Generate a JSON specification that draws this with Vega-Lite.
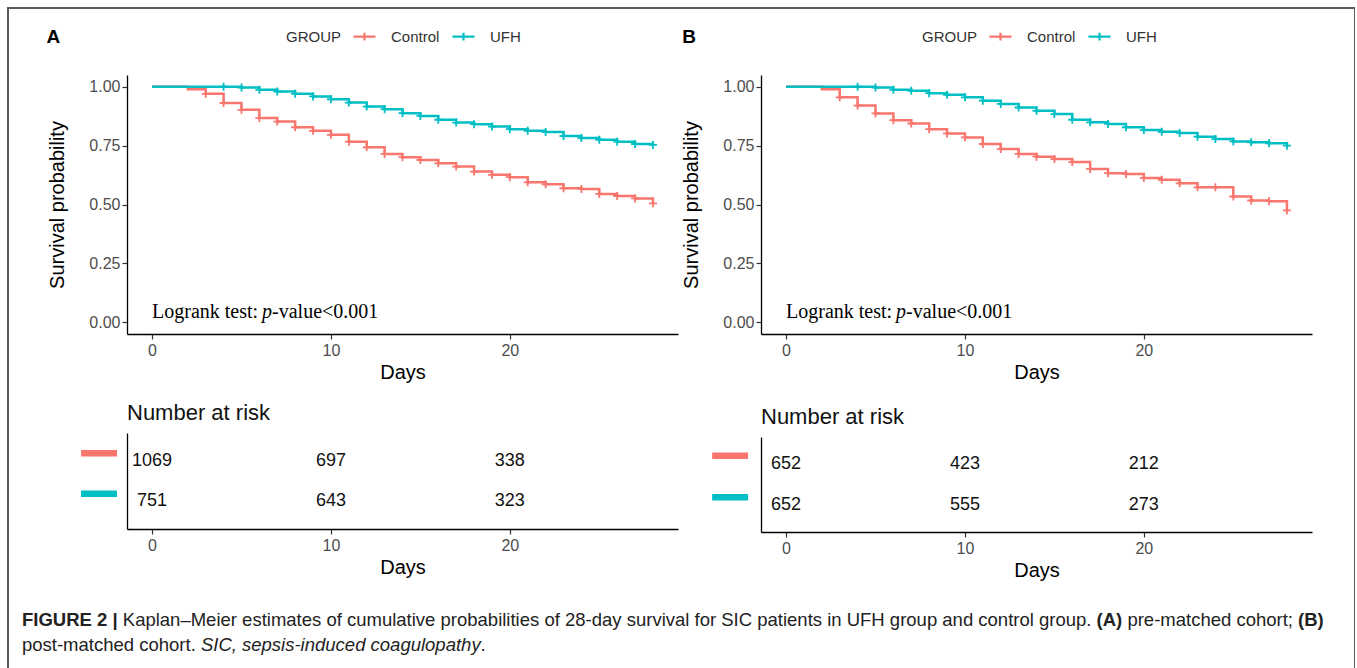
{
  "$schema": "https://vega.github.io/schema/vega-lite/v6.json",
  "width": 1347,
  "height": 670,
  "autosize": {"type": "none"},
  "padding": {"left": 8, "top": 8, "right": 0, "bottom": 0},
  "background": "white",
  "config": {
    "view": {"stroke": "#5a5a5a", "strokeWidth": 2},
    "font": "Liberation Sans",
    "axis": {"grid": false, "domainColor": "#000", "domainWidth": 1.3, "tickColor": "#333", "tickWidth": 1.2, "tickSize": 5, "labelColor": "#4d4d4d", "labelFontSize": 16, "labelFont": "Liberation Sans", "labelPadding": 3, "titleFont": "Liberation Sans", "titleFontSize": 20, "titleFontWeight": "normal", "titleColor": "#000"},
    "legend": {"labelFont": "Liberation Sans", "titleFont": "Liberation Sans"}
  },
  "datasets": {
    "km": [
      {"panel":"A","group":"Control","day":0,"surv":1,"censored":false},
      {"panel":"A","group":"Control","day":2,"surv":0.99,"censored":false},
      {"panel":"A","group":"Control","day":3,"surv":0.970,"censored":true},
      {"panel":"A","group":"Control","day":4,"surv":0.931,"censored":true},
      {"panel":"A","group":"Control","day":5,"surv":0.902,"censored":true},
      {"panel":"A","group":"Control","day":6,"surv":0.867,"censored":true},
      {"panel":"A","group":"Control","day":7,"surv":0.852,"censored":true},
      {"panel":"A","group":"Control","day":8,"surv":0.828,"censored":true},
      {"panel":"A","group":"Control","day":9,"surv":0.813,"censored":true},
      {"panel":"A","group":"Control","day":10,"surv":0.796,"censored":true},
      {"panel":"A","group":"Control","day":11,"surv":0.767,"censored":true},
      {"panel":"A","group":"Control","day":12,"surv":0.743,"censored":true},
      {"panel":"A","group":"Control","day":13,"surv":0.715,"censored":true},
      {"panel":"A","group":"Control","day":14,"surv":0.701,"censored":true},
      {"panel":"A","group":"Control","day":15,"surv":0.689,"censored":true},
      {"panel":"A","group":"Control","day":16,"surv":0.675,"censored":true},
      {"panel":"A","group":"Control","day":17,"surv":0.661,"censored":true},
      {"panel":"A","group":"Control","day":18,"surv":0.640,"censored":true},
      {"panel":"A","group":"Control","day":19,"surv":0.626,"censored":true},
      {"panel":"A","group":"Control","day":20,"surv":0.616,"censored":true},
      {"panel":"A","group":"Control","day":21,"surv":0.594,"censored":true},
      {"panel":"A","group":"Control","day":22,"surv":0.586,"censored":true},
      {"panel":"A","group":"Control","day":23,"surv":0.569,"censored":true},
      {"panel":"A","group":"Control","day":24,"surv":0.566,"censored":true},
      {"panel":"A","group":"Control","day":25,"surv":0.545,"censored":true},
      {"panel":"A","group":"Control","day":26,"surv":0.536,"censored":true},
      {"panel":"A","group":"Control","day":27,"surv":0.526,"censored":true},
      {"panel":"A","group":"Control","day":28,"surv":0.505,"censored":true},
      {"panel":"A","group":"UFH","day":0,"surv":1,"censored":false},
      {"panel":"A","group":"UFH","day":4,"surv":1,"censored":true},
      {"panel":"A","group":"UFH","day":5,"surv":0.997,"censored":true},
      {"panel":"A","group":"UFH","day":6,"surv":0.987,"censored":true},
      {"panel":"A","group":"UFH","day":7,"surv":0.980,"censored":true},
      {"panel":"A","group":"UFH","day":8,"surv":0.970,"censored":true},
      {"panel":"A","group":"UFH","day":9,"surv":0.959,"censored":true},
      {"panel":"A","group":"UFH","day":10,"surv":0.947,"censored":true},
      {"panel":"A","group":"UFH","day":11,"surv":0.933,"censored":true},
      {"panel":"A","group":"UFH","day":12,"surv":0.916,"censored":true},
      {"panel":"A","group":"UFH","day":13,"surv":0.905,"censored":true},
      {"panel":"A","group":"UFH","day":14,"surv":0.888,"censored":true},
      {"panel":"A","group":"UFH","day":15,"surv":0.876,"censored":true},
      {"panel":"A","group":"UFH","day":16,"surv":0.860,"censored":true},
      {"panel":"A","group":"UFH","day":17,"surv":0.848,"censored":true},
      {"panel":"A","group":"UFH","day":18,"surv":0.841,"censored":true},
      {"panel":"A","group":"UFH","day":19,"surv":0.831,"censored":true},
      {"panel":"A","group":"UFH","day":20,"surv":0.820,"censored":true},
      {"panel":"A","group":"UFH","day":21,"surv":0.813,"censored":true},
      {"panel":"A","group":"UFH","day":22,"surv":0.808,"censored":true},
      {"panel":"A","group":"UFH","day":23,"surv":0.791,"censored":true},
      {"panel":"A","group":"UFH","day":24,"surv":0.782,"censored":true},
      {"panel":"A","group":"UFH","day":25,"surv":0.775,"censored":true},
      {"panel":"A","group":"UFH","day":26,"surv":0.767,"censored":true},
      {"panel":"A","group":"UFH","day":27,"surv":0.757,"censored":true},
      {"panel":"A","group":"UFH","day":28,"surv":0.753,"censored":true},
      {"panel":"B","group":"Control","day":0,"surv":1,"censored":false},
      {"panel":"B","group":"Control","day":2,"surv":0.99,"censored":false},
      {"panel":"B","group":"Control","day":3,"surv":0.955,"censored":true},
      {"panel":"B","group":"Control","day":4,"surv":0.920,"censored":true},
      {"panel":"B","group":"Control","day":5,"surv":0.887,"censored":true},
      {"panel":"B","group":"Control","day":6,"surv":0.858,"censored":true},
      {"panel":"B","group":"Control","day":7,"surv":0.844,"censored":true},
      {"panel":"B","group":"Control","day":8,"surv":0.820,"censored":true},
      {"panel":"B","group":"Control","day":9,"surv":0.802,"censored":true},
      {"panel":"B","group":"Control","day":10,"surv":0.785,"censored":true},
      {"panel":"B","group":"Control","day":11,"surv":0.757,"censored":true},
      {"panel":"B","group":"Control","day":12,"surv":0.736,"censored":true},
      {"panel":"B","group":"Control","day":13,"surv":0.715,"censored":true},
      {"panel":"B","group":"Control","day":14,"surv":0.703,"censored":true},
      {"panel":"B","group":"Control","day":15,"surv":0.693,"censored":true},
      {"panel":"B","group":"Control","day":16,"surv":0.680,"censored":true},
      {"panel":"B","group":"Control","day":17,"surv":0.651,"censored":true},
      {"panel":"B","group":"Control","day":18,"surv":0.633,"censored":true},
      {"panel":"B","group":"Control","day":19,"surv":0.630,"censored":true},
      {"panel":"B","group":"Control","day":20,"surv":0.613,"censored":true},
      {"panel":"B","group":"Control","day":21,"surv":0.605,"censored":true},
      {"panel":"B","group":"Control","day":22,"surv":0.590,"censored":true},
      {"panel":"B","group":"Control","day":23,"surv":0.573,"censored":true},
      {"panel":"B","group":"Control","day":24,"surv":0.573,"censored":true},
      {"panel":"B","group":"Control","day":25,"surv":0.534,"censored":true},
      {"panel":"B","group":"Control","day":26,"surv":0.517,"censored":true},
      {"panel":"B","group":"Control","day":27,"surv":0.514,"censored":true},
      {"panel":"B","group":"Control","day":28,"surv":0.475,"censored":true},
      {"panel":"B","group":"UFH","day":0,"surv":1,"censored":false},
      {"panel":"B","group":"UFH","day":4,"surv":1,"censored":true},
      {"panel":"B","group":"UFH","day":5,"surv":0.997,"censored":true},
      {"panel":"B","group":"UFH","day":6,"surv":0.987,"censored":true},
      {"panel":"B","group":"UFH","day":7,"surv":0.983,"censored":true},
      {"panel":"B","group":"UFH","day":8,"surv":0.973,"censored":true},
      {"panel":"B","group":"UFH","day":9,"surv":0.966,"censored":true},
      {"panel":"B","group":"UFH","day":10,"surv":0.955,"censored":true},
      {"panel":"B","group":"UFH","day":11,"surv":0.941,"censored":true},
      {"panel":"B","group":"UFH","day":12,"surv":0.927,"censored":true},
      {"panel":"B","group":"UFH","day":13,"surv":0.912,"censored":true},
      {"panel":"B","group":"UFH","day":14,"surv":0.898,"censored":true},
      {"panel":"B","group":"UFH","day":15,"surv":0.884,"censored":true},
      {"panel":"B","group":"UFH","day":16,"surv":0.860,"censored":true},
      {"panel":"B","group":"UFH","day":17,"surv":0.849,"censored":true},
      {"panel":"B","group":"UFH","day":18,"surv":0.842,"censored":true},
      {"panel":"B","group":"UFH","day":19,"surv":0.828,"censored":true},
      {"panel":"B","group":"UFH","day":20,"surv":0.816,"censored":true},
      {"panel":"B","group":"UFH","day":21,"surv":0.809,"censored":true},
      {"panel":"B","group":"UFH","day":22,"surv":0.804,"censored":true},
      {"panel":"B","group":"UFH","day":23,"surv":0.788,"censored":true},
      {"panel":"B","group":"UFH","day":24,"surv":0.778,"censored":true},
      {"panel":"B","group":"UFH","day":25,"surv":0.768,"censored":true},
      {"panel":"B","group":"UFH","day":26,"surv":0.764,"censored":true},
      {"panel":"B","group":"UFH","day":27,"surv":0.760,"censored":true},
      {"panel":"B","group":"UFH","day":28,"surv":0.750,"censored":true}
    ],
    "risk": [
      {"panel":"A","group":"Control","day":0,"n":1069},
      {"panel":"A","group":"Control","day":10,"n":697},
      {"panel":"A","group":"Control","day":20,"n":338},
      {"panel":"A","group":"UFH","day":0,"n":751},
      {"panel":"A","group":"UFH","day":10,"n":643},
      {"panel":"A","group":"UFH","day":20,"n":323},
      {"panel":"B","group":"Control","day":0,"n":652},
      {"panel":"B","group":"Control","day":10,"n":423},
      {"panel":"B","group":"Control","day":20,"n":212},
      {"panel":"B","group":"UFH","day":0,"n":652},
      {"panel":"B","group":"UFH","day":10,"n":555},
      {"panel":"B","group":"UFH","day":20,"n":273}
    ]
  },
  "layer": [
    {
      "data": {"name": "km"},
      "transform": [{"filter": "datum.panel === 'A'"}],
      "layer": [
        {
          "mark": {"type": "line", "interpolate": "step-after", "strokeWidth": 2.5},
          "encoding": {
            "x": {"field": "day", "type": "quantitative", "scale": {"domain": [-1.4, 29.4], "range": [119, 670], "nice": false, "zero": false}, "axis": {"orient": "bottom", "offset": -344, "values": [0, 10, 20], "title": "Days", "titlePadding": 4}},
            "y": {"field": "surv", "type": "quantitative", "scale": {"domain": [-0.05, 1.05], "range": [326, 67], "nice": false, "zero": false}, "axis": {"orient": "left", "offset": -119, "values": [0, 0.25, 0.5, 0.75, 1], "format": ".2f", "title": "Survival probability", "titlePadding": 21, "labelPadding": 2}},
            "color": {"field": "group", "type": "nominal", "scale": {"domain": ["Control", "UFH"], "range": ["#F8766D", "#00BFC4"]},
              "legend": {"orient": "none", "legendX": 278, "legendY": 16, "direction": "horizontal", "title": "GROUP", "titleOrient": "left", "titleAnchor": "middle", "titleBaseline": "middle", "titleFontSize": 15, "titleFontWeight": "normal", "titleColor": "#333", "titlePadding": 10, "labelFontSize": 15, "labelColor": "#333", "labelOffset": 14, "columnPadding": 8, "symbolType": "M-1,0H1M0,-0.35V0.35", "symbolSize": 484, "symbolStrokeWidth": 2.2, "encode": {"title": {"update": {"dy": {"value": 3}}}}}}
          }
        },
        {
          "transform": [{"filter": "datum.censored"}],
          "mark": {"type": "point", "shape": "M-1,0H1M0,-1V1", "filled": false, "size": 64, "strokeWidth": 1.8, "opacity": 1},
          "encoding": {
            "x": {"field": "day", "type": "quantitative"},
            "y": {"field": "surv", "type": "quantitative"},
            "color": {"field": "group", "type": "nominal"}
          }
        },
        {
          "data": {"values": [{}]},
          "mark": {"type": "text", "text": "A", "fontWeight": "bold", "fontSize": 19, "align": "left", "baseline": "alphabetic", "color": "#000"},
          "encoding": {"x": {"datum": -5.9, "type": "quantitative"}, "y": {"datum": 1.186, "type": "quantitative"}}
        },
        {
          "data": {"values": [{}]},
          "mark": {"type": "text", "text": "Logrank test: ", "font": "Liberation Serif", "fontSize": 20, "align": "left", "baseline": "alphabetic", "color": "#000"},
          "encoding": {"x": {"datum": 0, "type": "quantitative"}, "y": {"datum": 0.017, "type": "quantitative"}}
        },
        {
          "data": {"values": [{}]},
          "mark": {"type": "text", "text": "p", "font": "Liberation Serif", "fontStyle": "italic", "fontSize": 20, "align": "left", "baseline": "alphabetic", "color": "#000", "dx": 110},
          "encoding": {"x": {"datum": 0, "type": "quantitative"}, "y": {"datum": 0.017, "type": "quantitative"}}
        },
        {
          "data": {"values": [{}]},
          "mark": {"type": "text", "text": "-value<0.001", "font": "Liberation Serif", "fontSize": 20, "align": "left", "baseline": "alphabetic", "color": "#000", "dx": 120},
          "encoding": {"x": {"datum": 0, "type": "quantitative"}, "y": {"datum": 0.017, "type": "quantitative"}}
        },
        {
          "data": {"values": [{}]},
          "mark": {"type": "text", "text": "Number at risk", "fontSize": 22, "align": "left", "baseline": "alphabetic", "color": "#111"},
          "encoding": {"x": {"datum": -1.4, "type": "quantitative"}, "y": {"datum": -0.417, "type": "quantitative"}}
        }
      ]
    },
    {
      "data": {"name": "km"},
      "transform": [{"filter": "datum.panel === 'B'"}],
      "layer": [
        {
          "mark": {"type": "line", "interpolate": "step-after", "strokeWidth": 2.5},
          "encoding": {
            "x": {"field": "day", "type": "quantitative", "scale": {"domain": [-1.4, 29.4], "range": [753, 1304], "nice": false, "zero": false}, "axis": {"orient": "bottom", "offset": -344, "values": [0, 10, 20], "title": "Days", "titlePadding": 4}},
            "y": {"field": "surv", "type": "quantitative", "scale": {"domain": [-0.05, 1.05], "range": [326, 67], "nice": false, "zero": false}, "axis": {"orient": "left", "offset": -753, "values": [0, 0.25, 0.5, 0.75, 1], "format": ".2f", "title": "Survival probability", "titlePadding": 21, "labelPadding": 2}},
            "color": {"field": "group", "type": "nominal", "scale": {"domain": ["Control", "UFH"], "range": ["#F8766D", "#00BFC4"]},
              "legend": {"orient": "none", "legendX": 914, "legendY": 16, "direction": "horizontal", "title": "GROUP", "titleOrient": "left", "titleAnchor": "middle", "titleBaseline": "middle", "titleFontSize": 15, "titleFontWeight": "normal", "titleColor": "#333", "titlePadding": 10, "labelFontSize": 15, "labelColor": "#333", "labelOffset": 14, "columnPadding": 8, "symbolType": "M-1,0H1M0,-0.35V0.35", "symbolSize": 484, "symbolStrokeWidth": 2.2, "encode": {"title": {"update": {"dy": {"value": 3}}}}}}
          }
        },
        {
          "transform": [{"filter": "datum.censored"}],
          "mark": {"type": "point", "shape": "M-1,0H1M0,-1V1", "filled": false, "size": 64, "strokeWidth": 1.8, "opacity": 1},
          "encoding": {
            "x": {"field": "day", "type": "quantitative"},
            "y": {"field": "surv", "type": "quantitative"},
            "color": {"field": "group", "type": "nominal"}
          }
        },
        {
          "data": {"values": [{}]},
          "mark": {"type": "text", "text": "B", "fontWeight": "bold", "fontSize": 19, "align": "left", "baseline": "alphabetic", "color": "#000"},
          "encoding": {"x": {"datum": -5.8, "type": "quantitative"}, "y": {"datum": 1.186, "type": "quantitative"}}
        },
        {
          "data": {"values": [{}]},
          "mark": {"type": "text", "text": "Logrank test: ", "font": "Liberation Serif", "fontSize": 20, "align": "left", "baseline": "alphabetic", "color": "#000"},
          "encoding": {"x": {"datum": 0, "type": "quantitative"}, "y": {"datum": 0.017, "type": "quantitative"}}
        },
        {
          "data": {"values": [{}]},
          "mark": {"type": "text", "text": "p", "font": "Liberation Serif", "fontStyle": "italic", "fontSize": 20, "align": "left", "baseline": "alphabetic", "color": "#000", "dx": 110},
          "encoding": {"x": {"datum": 0, "type": "quantitative"}, "y": {"datum": 0.017, "type": "quantitative"}}
        },
        {
          "data": {"values": [{}]},
          "mark": {"type": "text", "text": "-value<0.001", "font": "Liberation Serif", "fontSize": 20, "align": "left", "baseline": "alphabetic", "color": "#000", "dx": 120},
          "encoding": {"x": {"datum": 0, "type": "quantitative"}, "y": {"datum": 0.017, "type": "quantitative"}}
        },
        {
          "data": {"values": [{}]},
          "mark": {"type": "text", "text": "Number at risk", "fontSize": 22, "align": "left", "baseline": "alphabetic", "color": "#111"},
          "encoding": {"x": {"datum": -1.4, "type": "quantitative"}, "y": {"datum": -0.431, "type": "quantitative"}}
        }
      ]
    },
    {
      "data": {"name": "risk"},
      "transform": [{"filter": "datum.panel === 'A'"}],
      "layer": [
        {
          "mark": {"type": "text", "fontSize": 18, "color": "#111", "baseline": "middle", "align": "center"},
          "encoding": {
            "x": {"field": "day", "type": "quantitative", "scale": {"domain": [-1.4, 29.4], "range": [119, 670], "nice": false, "zero": false}, "axis": {"orient": "bottom", "offset": -149, "values": [0, 10, 20], "title": "Days", "titlePadding": 4}},
            "y": {"field": "group", "type": "nominal", "scale": {"type": "point", "domain": ["Control", "UFH"], "range": [425, 521], "padding": 0.69}, "axis": {"orient": "left", "offset": -119, "labels": false, "ticks": false, "title": null}},
            "text": {"field": "n", "type": "quantitative", "format": "d"}
          }
        },
        {
          "transform": [{"filter": "datum.day === 0"}],
          "mark": {"type": "rule", "strokeWidth": 6.5, "yOffset": -7.5},
          "encoding": {
            "x": {"datum": -3.97, "type": "quantitative"},
            "x2": {"datum": -1.96},
            "y": {"field": "group", "type": "nominal"},
            "color": {"field": "group", "type": "nominal", "scale": {"domain": ["Control", "UFH"], "range": ["#F8766D", "#00BFC4"]}, "legend": null}
          }
        }
      ]
    },
    {
      "data": {"name": "risk"},
      "transform": [{"filter": "datum.panel === 'B'"}],
      "layer": [
        {
          "mark": {"type": "text", "fontSize": 18, "color": "#111", "baseline": "middle", "align": "center"},
          "encoding": {
            "x": {"field": "day", "type": "quantitative", "scale": {"domain": [-1.4, 29.4], "range": [753, 1304], "nice": false, "zero": false}, "axis": {"orient": "bottom", "offset": -146, "values": [0, 10, 20], "title": "Days", "titlePadding": 4}},
            "y": {"field": "group", "type": "nominal", "scale": {"type": "point", "domain": ["Control", "UFH"], "range": [429, 524], "padding": 0.64}, "axis": {"orient": "left", "offset": -753, "labels": false, "ticks": false, "title": null}},
            "text": {"field": "n", "type": "quantitative", "format": "d"}
          }
        },
        {
          "transform": [{"filter": "datum.day === 0"}],
          "mark": {"type": "rule", "strokeWidth": 6.5, "yOffset": -8},
          "encoding": {
            "x": {"datum": -4.13, "type": "quantitative"},
            "x2": {"datum": -2.12},
            "y": {"field": "group", "type": "nominal"},
            "color": {"field": "group", "type": "nominal", "scale": {"domain": ["Control", "UFH"], "range": ["#F8766D", "#00BFC4"]}, "legend": null}
          }
        }
      ]
    },
    {
      "data": {"values": [{}]},
      "layer": [
        {
          "mark": {"type": "text", "text": "FIGURE 2 |", "fontWeight": "bold", "fontSize": 18.5, "align": "left", "baseline": "alphabetic", "color": "#222"},
          "encoding": {
            "x": {"datum": 0.01039, "type": "quantitative", "scale": {"domain": [0, 1], "range": [0, 1347], "nice": false, "zero": false}, "axis": null},
            "y": {"datum": 0.9224, "type": "quantitative", "scale": {"domain": [0, 1], "range": [0, 670], "nice": false, "zero": false}, "axis": null}
          }
        },
        {
          "mark": {"type": "text", "text": "Kaplan–Meier estimates of cumulative probabilities of 28-day survival for SIC patients in UFH group and control group.", "fontSize": 18.5, "align": "left", "baseline": "alphabetic", "color": "#222"},
          "encoding": {"x": {"datum": 0.08523, "type": "quantitative", "axis": null}, "y": {"datum": 0.9224, "type": "quantitative", "axis": null}}
        },
        {
          "mark": {"type": "text", "text": "(A)", "fontWeight": "bold", "fontSize": 18.5, "align": "left", "baseline": "alphabetic", "color": "#222"},
          "encoding": {"x": {"datum": 0.80809, "type": "quantitative", "axis": null}, "y": {"datum": 0.9224, "type": "quantitative", "axis": null}}
        },
        {
          "mark": {"type": "text", "text": "pre-matched cohort;", "fontSize": 18.5, "align": "left", "baseline": "alphabetic", "color": "#222"},
          "encoding": {"x": {"datum": 0.83103, "type": "quantitative", "axis": null}, "y": {"datum": 0.9224, "type": "quantitative", "axis": null}}
        },
        {
          "mark": {"type": "text", "text": "(B)", "fontWeight": "bold", "fontSize": 18.5, "align": "left", "baseline": "alphabetic", "color": "#222"},
          "encoding": {"x": {"datum": 0.95768, "type": "quantitative", "axis": null}, "y": {"datum": 0.9224, "type": "quantitative", "axis": null}}
        },
        {
          "mark": {"type": "text", "text": "post-matched cohort.", "fontSize": 18.5, "align": "left", "baseline": "alphabetic", "color": "#222"},
          "encoding": {"x": {"datum": 0.01039, "type": "quantitative", "axis": null}, "y": {"datum": 0.9597, "type": "quantitative", "axis": null}}
        },
        {
          "mark": {"type": "text", "text": "SIC, sepsis-induced coagulopathy", "fontStyle": "italic", "fontSize": 18.5, "align": "left", "baseline": "alphabetic", "color": "#222"},
          "encoding": {"x": {"datum": 0.14321, "type": "quantitative", "axis": null}, "y": {"datum": 0.9597, "type": "quantitative", "axis": null}}
        },
        {
          "mark": {"type": "text", "text": ".", "fontSize": 18.5, "align": "left", "baseline": "alphabetic", "color": "#222"},
          "encoding": {"x": {"datum": 0.35085, "type": "quantitative", "axis": null}, "y": {"datum": 0.9597, "type": "quantitative", "axis": null}}
        }
      ]
    }
  ],
  "resolve": {
    "scale": {"x": "independent", "y": "independent", "color": "independent"},
    "axis": {"x": "independent", "y": "independent"},
    "legend": {"color": "independent"}
  }
}
